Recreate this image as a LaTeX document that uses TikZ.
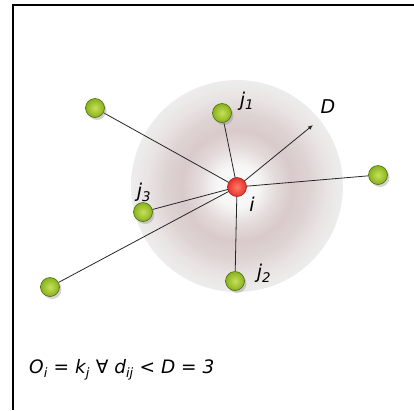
\documentclass[tikz,border=0pt]{standalone}
\usepackage{fontspec}
\setsansfont{DejaVu Sans}
\usetikzlibrary{arrows.meta,shadows,backgrounds}

\definecolor{ballgreen}{HTML}{86B21C}
\definecolor{balllight}{HTML}{C8E05A}
\definecolor{ballline}{HTML}{4E6A0C}
\definecolor{centrered}{HTML}{E5322B}
\definecolor{centrelight}{HTML}{FF7A6A}
\definecolor{centreline}{HTML}{A8201A}

\pgfdeclareradialshading{reach}{\pgfpoint{0bp}{0bp}}{%
  color(0bp)=(white!97!gray);
  color(5bp)=(white!93!gray);
  color(9bp)=(red!5!white!80!gray);
  color(13bp)=(red!8!white!70!gray);
  color(17bp)=(red!6!white!74!gray);
  color(21bp)=(red!3!white!83!gray);
  color(25bp)=(white!86!gray);
  color(50bp)=(white!86!gray)}

\begin{document}
\begin{tikzpicture}[x=1pt, y=-1pt, >=Latex, font=\sffamily\itshape,
  neighbour/.style={circle, draw=ballline, line width=0.6pt, inner color=balllight,
    outer color=ballgreen, minimum size=19pt, inner sep=0pt,
    drop shadow={shadow xshift=2pt, shadow yshift=-2.5pt, opacity=0.35}},
  centre/.style={circle, draw=centreline, line width=0.6pt, inner color=centrelight,
    outer color=centrered, minimum size=19pt, inner sep=0pt},
  link/.style={black!85, line width=0.8pt},
  lbl/.style={font=\fontsize{19}{22}\selectfont\sffamily\itshape, inner sep=0pt}]
  \useasboundingbox (0,0) rectangle (414,410);

  % frame (only top and left edges are visible)
  \draw[line width=1.2pt] (13,410) -- (13,5) -- (414,5);

  % nodes
  \node[centre] (i) at (237,187) {};
  \node[neighbour] (j1) at (222,113) {};
  \node[neighbour] (j2) at (235,281) {};
  \node[neighbour] (j3) at (143,212) {};
  \node[neighbour] (n1) at (95,108) {};
  \node[neighbour] (n2) at (378,175) {};
  \node[neighbour] (n3) at (50,287) {};
  \coordinate (dtip) at (313,125);

  % reach disc and links (behind the balls)
  \begin{scope}[on background layer]
    \shade[shading=reach] (237,186) circle (106);
    \draw[link] (i.center) -- (n1);
    \draw[link] (i.center) -- (j1);
    \draw[link] (i.center) -- (n2);
    \draw[link] (i.center) -- (j2);
    \draw[link] (i.center) -- (j3);
    \draw[link] (i.center) -- (n3);
    \draw[link, -{Latex[length=5pt, width=4pt]}] (i.center) -- (dtip);
  \end{scope}

  % labels
  \node[lbl] (lj1) at (247,101) {j\textsubscript{1}};
  \node[lbl] (lj2) at (264,273) {j\textsubscript{2}};
  \node[lbl] (lj3) at (144,192) {j\textsubscript{3}};
  \node[lbl] (li) at (252,204) {i};
  \node[lbl] (ld) at (328,107) {D};

  % rule
  \node[anchor=west, inner sep=0pt, font=\fontsize{18.5}{22}\selectfont\sffamily\itshape] (rule) at (29,370)
    {O\textsubscript{i} = k\textsubscript{j} ∀ d\textsubscript{ij} < D = 3};
\end{tikzpicture}
\end{document}
